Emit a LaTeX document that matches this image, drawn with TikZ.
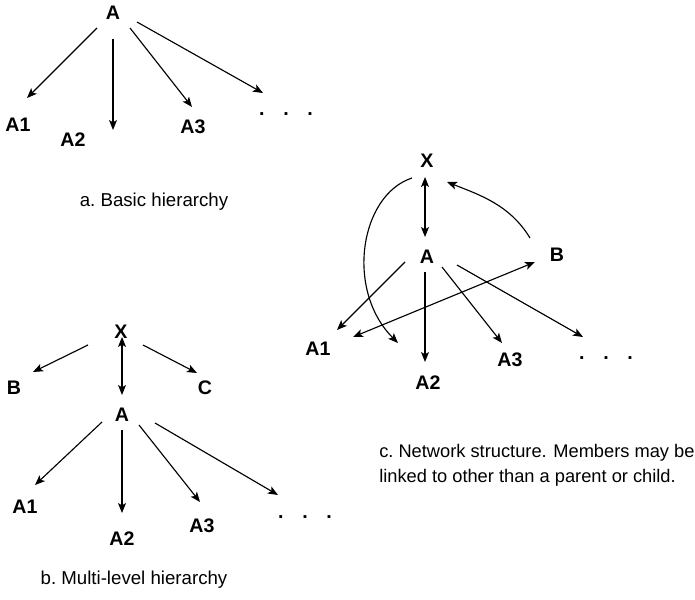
\documentclass[tikz,border=0pt]{standalone}
\usepackage{fontspec}
\setmainfont{Liberation Sans}
\usetikzlibrary{arrows.meta,calc}
\pgfdeclarelayer{edgelayer}
\pgfdeclarelayer{nodelayer}
\pgfsetlayers{edgelayer,nodelayer,main}
\tikzstyle{edge}=[draw=black, line width=0.85pt, -{Stealth[length=7.5pt,width=6pt,inset=1.8pt]}]
\tikzstyle{twoway}=[edge, {Stealth[length=7.5pt,width=6pt,inset=1.8pt]}-{Stealth[length=7.5pt,width=6pt,inset=1.8pt]}]
\tikzstyle{member}=[inner sep=0pt, font=\fontsize{14.7}{17}\selectfont\bfseries]
\tikzstyle{caption}=[inner sep=0pt, align=left, font=\fontsize{14}{18.75}\selectfont]

\begin{document}
\frenchspacing
\begin{tikzpicture}[x=0.75pt, y=-0.75pt]
			\useasboundingbox (0, 0) rectangle (695, 599);
			\begin{pgfonlayer}{nodelayer}
			% a. basic hierarchy
			\node [style=member] (aA) at (113, 13) {A};
			\node [style=member] (aA1) at (18, 125) {A1};
			\node [style=member] (aA2) at (73, 140) {A2};
			\node [style=member] (aA3) at (193, 127) {A3};
			\node [style=member] (adots) at (286, 114) {.\hskip 14pt.\hskip 14pt.};
			\node [style=caption] (acap) at (154, 202) {a. Basic hierarchy};
			% b. multi-level hierarchy
			\node [style=member] (bX) at (121, 332) {X};
			\node [style=member] (bB) at (14, 388) {B};
			\node [style=member] (bC) at (205, 388) {C};
			\node [style=member] (bA) at (122, 415) {A};
			\node [style=member] (bA1) at (25, 507) {A1};
			\node [style=member] (bA2) at (122, 539) {A2};
			\node [style=member] (bA3) at (202, 526) {A3};
			\node [style=member] (bdots) at (305, 517) {.\hskip 14pt.\hskip 14pt.};
			\node [style=caption] (bcap) at (134, 580) {b. Multi-level hierarchy};
			% c. network structure
			\node [style=caption, anchor=west, font=\fontsize{13.7}{18.75}\selectfont] (ccap) at (379, 465) {c. Network structure.\hskip 5pt Members may be\\linked to other than a parent or child.};
			\node [style=member] (cX) at (427, 161) {X};
			\node [style=member] (cA) at (427, 257) {A};
			\node [style=member] (cB) at (557, 255) {B};
			\node [style=member] (cA1) at (318, 349) {A1};
			\node [style=member] (cA2) at (428, 383) {A2};
			\node [style=member] (cA3) at (510, 360) {A3};
			\node [style=member] (cdots) at (606, 358) {.\hskip 14pt.\hskip 14pt.};
			\end{pgfonlayer}
			\begin{pgfonlayer}{edgelayer}
			\draw [style=edge] ($(aA)+(-16, 15)$) to ($(aA1)+(9, -27)$);
			\draw [style=edge] ($(aA)+(0, 26)$) to ($(aA2)+(40, -10)$);
			\draw [style=edge] ($(aA)+(17, 15)$) to ($(aA3)+(-1, -20)$);
			\draw [style=edge] ($(aA)+(24, 9)$) to ($(adots)+(-23, -21)$);
			\draw [style=edge] ($(bX)+(-33, 13)$) to ($(bB)+(19, -16)$);
			\draw [style=edge] ($(bX)+(22, 13)$) to ($(bC)+(-8, -15)$);
			\draw [style=twoway] ($(bX)+(1, 5)$) to ($(bA)+(0, -20)$);
			\draw [style=edge] ($(bA)+(-20, 7)$) to ($(bA1)+(10, -22)$);
			\draw [style=edge] ($(bA)+(0, 15)$) to ($(bA2)+(0, -26)$);
			\draw [style=edge] ($(bA)+(17, 10)$) to ($(bA3)+(-2, -24)$);
			\draw [style=edge] ($(bA)+(33, 8)$) to ($(bdots)+(-27, -22)$);
			\draw [style=twoway] ($(cX)+(-2, 16)$) to ($(cA)+(-2, -20)$);
			\draw [style=edge] ($(cX)+(-15, 17)$) .. controls +(-52, 17) and +(-53, -53) .. ($(cA2)+(-30, -40)$);
			\draw [style=edge] ($(cB)+(-27, -17)$) .. controls +(-20, -33) and +(33, 13) .. ($(cX)+(20, 21)$);
			\draw [style=edge] ($(cA)+(-22, 5)$) to ($(cA1)+(19, -19)$);
			\draw [style=twoway] ($(cA1)+(35, -12)$) to ($(cB)+(-22, 7)$);
			\draw [style=edge] ($(cA)+(-2, 15)$) to ($(cA2)+(-3, -21)$);
			\draw [style=edge] ($(cA)+(15, 10)$) to ($(cA3)+(-8, -17)$);
			\draw [style=edge] ($(cA)+(30, 8)$) to ($(cdots)+(-23, -21)$);
			\end{pgfonlayer}
\end{tikzpicture}
\end{document}
